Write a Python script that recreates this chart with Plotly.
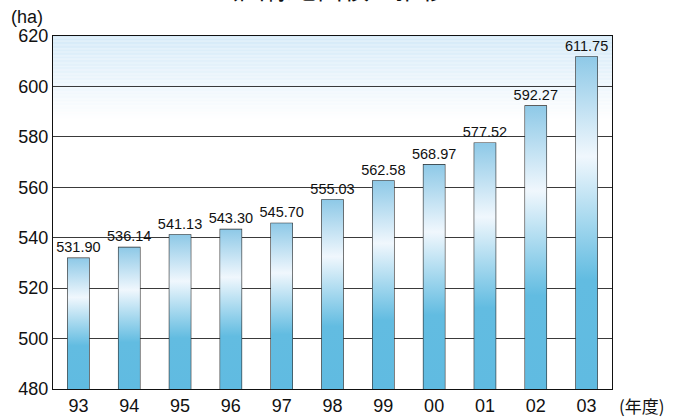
import plotly.graph_objects as go

years = ["93", "94", "95", "96", "97", "98", "99", "00", "01", "02", "03"]
values = [531.90, 536.14, 541.13, 543.30, 545.70, 555.03, 562.58, 568.97, 577.52, 592.27, 611.75]
y_ticks = [480, 500, 520, 540, 560, 580, 600, 620]

Y_MIN, Y_MAX = 480, 620
BAR_W = 0.42
FONT = "Liberation Sans, Arial, sans-serif"

fig = go.Figure()

# bar gradient fills
bar_scale = [[0, "#60bbe1"], [0.33, "#62bce1"], [0.70, "#f0f7fd"], [1, "#8ec9e7"]]
for i, v in enumerate(values):
    x0, x1 = i - BAR_W / 2, i + BAR_W / 2
    fig.add_trace(go.Scatter(
        x=[x0, x1, x1, x0, x0], y=[Y_MIN, Y_MIN, v, v, Y_MIN],
        mode="lines", line=dict(width=0), fill="toself",
        fillgradient=dict(type="vertical", colorscale=bar_scale),
        hoverinfo="skip", showlegend=False))

# bar outlines + labels
fig.add_trace(go.Bar(
    x=list(range(len(years))), y=values, width=BAR_W,
    marker=dict(color="rgba(0,0,0,0)", line=dict(color="#2a2a2a", width=1.2)),
    text=[f"{v:.2f}" for v in values], textposition="outside",
    constraintext="none",
    textfont=dict(family=FONT, size=14.5, color="#111"),
    cliponaxis=False, showlegend=False))

# background gradient strips (below gridlines)
shapes = []
n = 60
g0, g1 = Y_MAX, 587
c_top = (213, 234, 248)
for k in range(n):
    ya = g0 - (g0 - g1) * k / n
    yb = g0 - (g0 - g1) * (k + 1) / n
    t = k / n
    c = tuple(round(c_top[j] + (255 - c_top[j]) * t) for j in range(3))
    shapes.append(dict(type="rect", xref="x", yref="y", x0=-0.5, x1=len(years) - 0.5,
                       y0=yb, y1=ya, fillcolor=f"rgb{c}", line=dict(width=0), layer="below"))

fig.update_layout(
    width=682, height=417,
    margin=dict(l=53, r=70, t=36, b=28),
    paper_bgcolor="white", plot_bgcolor="white",
    shapes=shapes,
    bargap=0.5,
    font=dict(family=FONT, size=18, color="#111"),
    xaxis=dict(range=[-0.5, len(years) - 0.5], tickmode="array",
               tickvals=list(range(len(years))), ticktext=years, automargin=False,
               showgrid=False, showline=True, linecolor="#111", linewidth=1.2, mirror=True,
               ticks="", tickfont=dict(size=18), zeroline=False, fixedrange=True),
    yaxis=dict(range=[Y_MIN, Y_MAX], tickmode="array", tickvals=y_ticks, automargin=False,
               showgrid=True, gridcolor="#3a3a3a", gridwidth=1,
               showline=True, linecolor="#111", linewidth=1.2, mirror=True,
               ticks="", tickfont=dict(size=18), zeroline=False, fixedrange=True),
    annotations=[
        dict(text="公園緑地面積の推移", xref="paper", yref="paper", x=0.495, y=1,
             xanchor="center", yanchor="bottom", yshift=28, showarrow=False,
             font=dict(family="Noto Sans CJK JP", size=26, color="#111")),
        dict(text="(ha)", xref="paper", yref="paper", x=0, y=1,
             xanchor="center", yanchor="middle", xshift=-26, yshift=19, showarrow=False,
             font=dict(family=FONT, size=18, color="#111")),
        dict(text="(年度)", xref="paper", yref="paper", x=1, y=0,
             xanchor="left", yanchor="middle", xshift=5, yshift=-16, showarrow=False,
             font=dict(family="Noto Sans CJK JP", size=17, color="#111")),
    ],
)

fig.write_html("out.html", config={"displayModeBar": False},
               post_script="document.body.style.margin='0px';")
